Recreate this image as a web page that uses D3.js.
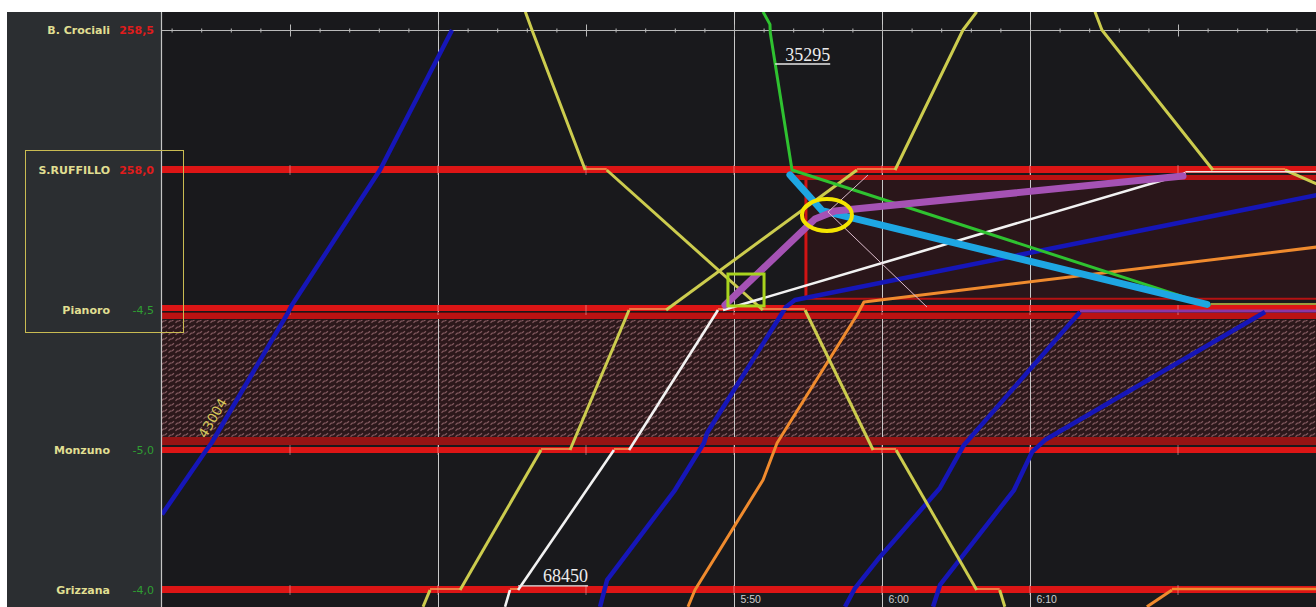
<!DOCTYPE html>
<html>
<head>
<meta charset="utf-8">
<script src="https://cdn.jsdelivr.net/npm/d3@7"></script>
<style>
  html, body { margin: 0; padding: 0; background: #ffffff; overflow: hidden; }
  svg { display: block; }
</style>
</head>
<body>
<svg id="chart" width="1316" height="607"></svg>
<script>
// ---- Line data -----------------------------------------------------------
// Stations from top to bottom with their kilometre markers.
const stations   = ["B. Crociali", "S.RUFFILLO", "Pianoro", "Monzuno", "Grizzana"];
const stationKm  = ["258,5", "258,0", "-4,5", "-5,0", "-4,0"];

// Train paths: [minutes after 05:00, position in station units]
// (0 = B. Crociali, 1 = S.RUFFILLO, 2 = Pianoro, 3 = Monzuno, 4 = Grizzana).
// Two consecutive points on the same position are a stop.
const train43004   = [[11.35, 3.46], [14.35, 3.0], [14.7, 2.95], [19.86, 2.02], [20.1, 1.97], [26.08, 1.0], [30.95, 0.0]];
const trainYellowA = [[35.9, -0.13], [36.35, 0], [39.95, 1], [41.4, 1], [51.95, 2], [54.8, 2], [59.4, 3], [60.95, 3], [66.4, 4], [67.95, 4], [68.3, 4.12]];
const trainYellowB = [[28.99, 4.12], [29.46, 4], [31.49, 4], [36.96, 3], [38.92, 3], [42.91, 2], [45.41, 2], [58.31, 1], [60.88, 1], [65.47, 0], [66.4, -0.13]];
const trainYellowC = [[74.39, -0.13], [74.86, 0], [82.36, 1], [87.23, 1], [89.4, 1.1]];
const train68450   = [[34.53, 4.12], [34.86, 4], [35.41, 4], [41.89, 3], [42.91, 3], [48.92, 2], [49.26, 2], [80.34, 1.03], [80.5, 1.02], [89.4, 1.02]];
const train35295   = [[51.96, -0.13], [52.43, -0.04], [52.45, 0.02], [53.92, 1], [81.96, 1.96], [82.2, 1.965], [89.4, 1.965]];
const routeCyan    = [[53.78, 1.035], [55.95, 1.29], [81.96, 1.96]];
const routeViolet  = [[49.39, 1.964], [55.47, 1.35], [56.82, 1.293], [80.34, 1.043]];
const trainBlueB   = [[40.95, 4.12], [41.42, 3.93], [46.01, 3.286], [47.97, 2.95], [48.18, 2.879], [53.51, 1.979], [54.12, 1.929], [89.4, 1.179]];
const trainBlueC   = [[57.5, 4.12], [58.18, 3.986], [59.86, 3.764], [63.92, 3.271], [65.54, 2.964], [73.38, 2.014], [89.4, 2.014]];
const trainBlueD   = [[63.45, 4.12], [63.92, 3.964], [68.92, 3.286], [70.14, 3.014], [71.01, 2.929], [85.88, 2.014]];
const trainOrangeA = [[46.89, 4.12], [47.36, 4], [51.96, 3.214], [52.91, 2.95], [58.31, 2.036], [58.78, 1.943], [89.4, 1.55]];
const trainOrangeB = [[77.9, 4.12], [79.59, 4.0], [89.4, 4.0]];

// Conflict markers
const conflictLink   = [[59.05, 1.036], [56.35, 1.3], [63.04, 1.979]];
const conflictPoint  = [56.28, 1.321];
const conflictSquare = [[49.59, 1.743], [52.03, 1.971]];

// Track occupation: closed section Pianoro–Monzuno, occupied block S.RUFFILLO–Pianoro
const closedSection  = [2.071, 2.907];
const occupiedBlock  = { start: 54.86, from: 1.07, to: 1.92 };
const secondTrackFrom = 53.78;

// Time axis
const gridTimes   = [30, 50, 60, 70];
const labelTimes  = [50, 60, 70];
const majorTicks  = [20, 30, 40, 50, 60, 70, 80];
const minorTicks  = d3.range(12, 90, 2);

// ---- Layout --------------------------------------------------------------
const W = 1316, H = 607;
const plotL = 162, plotR = 1316, plotT = 12, plotB = 607;
const x = d3.scaleLinear().domain([30, 70]).range([438, 1030]);
const y = d3.scaleLinear().domain([0, 4]).range([30, 590]);
const fmt = t => `${5 + Math.floor(t / 60)}:${String(Math.round(t % 60)).padStart(2, "0")}`;

const RED = "#dc1515", RED_MID = "#bb1212", RED_DARK = "#961414";

const svg = d3.select("#chart");
const defs = svg.append("defs");
defs.append("clipPath").attr("id", "plotClip")
  .append("rect").attr("x", plotL).attr("y", plotT).attr("width", plotR - plotL).attr("height", plotB - plotT);

const hatch = defs.append("pattern").attr("id", "hatch")
  .attr("patternUnits", "userSpaceOnUse").attr("width", 7).attr("height", 6);
hatch.append("rect").attr("width", 7).attr("height", 6).attr("fill", "#2c181b");
hatch.append("path").attr("d", "M0.5,4.8 L2.3,3.1 L4.3,2.8 L6,1.2")
  .attr("stroke", "#82595f").attr("stroke-width", 1.2).attr("fill", "none");

// Frame and panels
svg.append("rect").attr("width", W).attr("height", H).attr("fill", "#ffffff");
svg.append("rect").attr("x", 7).attr("y", plotT).attr("width", plotL - 7).attr("height", plotB - plotT).attr("fill", "#2b2e31");
svg.append("rect").attr("x", plotL).attr("y", plotT).attr("width", plotR - plotL).attr("height", plotB - plotT).attr("fill", "#19191c");

const plot = svg.append("g").attr("clip-path", "url(#plotClip)");

// Closed section (hatched)
plot.append("rect")
  .attr("x", plotL).attr("width", plotR - plotL)
  .attr("y", y(closedSection[0])).attr("height", y(closedSection[1]) - y(closedSection[0]))
  .attr("fill", "url(#hatch)");

// Occupied block
plot.append("rect")
  .attr("x", x(occupiedBlock.start)).attr("width", plotR - x(occupiedBlock.start))
  .attr("y", y(occupiedBlock.from)).attr("height", y(occupiedBlock.to) - y(occupiedBlock.from))
  .attr("fill", "#2a161a");

// Vertical grid lines
plot.selectAll("line.grid").data(gridTimes).join("line")
  .attr("class", "grid")
  .attr("x1", d => x(d) + 0.5).attr("x2", d => x(d) + 0.5)
  .attr("y1", plotT).attr("y2", plotB)
  .attr("stroke", "#c9c9c9").attr("stroke-width", 1);

// Station track bands (pixel offsets from each station line)
const bandLayout = [
  [],
  [{ dy: -0.5, w: 7, c: RED }],
  [{ dy: -2, w: 6, c: RED }, { dy: 6, w: 6, c: RED_MID }],
  [{ dy: -9, w: 8, c: RED_DARK }, { dy: 0, w: 6, c: RED }],
  [{ dy: -0.5, w: 7, c: RED }]
];
bandLayout.forEach((bands, i) => {
  bands.forEach(b => {
    plot.append("line")
      .attr("x1", plotL).attr("x2", plotR)
      .attr("y1", y(i) + b.dy).attr("y2", y(i) + b.dy)
      .attr("stroke", b.c).attr("stroke-width", b.w);
  });
});
// second track at S.RUFFILLO
plot.append("line")
  .attr("x1", x(secondTrackFrom)).attr("x2", plotR)
  .attr("y1", y(1) + 7.5).attr("y2", y(1) + 7.5)
  .attr("stroke", RED_MID).attr("stroke-width", 5);
// Pianoro separator
plot.append("line")
  .attr("x1", plotL).attr("x2", plotR)
  .attr("y1", y(2) + 2.5).attr("y2", y(2) + 2.5)
  .attr("stroke", "#5a0e10").attr("stroke-width", 1);
// occupied block borders
plot.append("line")
  .attr("x1", x(occupiedBlock.start)).attr("x2", x(occupiedBlock.start))
  .attr("y1", y(occupiedBlock.from)).attr("y2", y(occupiedBlock.to))
  .attr("stroke", "#d01414").attr("stroke-width", 3);
plot.append("line")
  .attr("x1", x(occupiedBlock.start)).attr("x2", plotR)
  .attr("y1", y(occupiedBlock.to)).attr("y2", y(occupiedBlock.to))
  .attr("stroke", "#b51212").attr("stroke-width", 2);

// kilometre marks on the station bands
[1, 2, 3, 4].forEach(i => {
  plot.selectAll(null).data(majorTicks).join("line")
    .attr("x1", d => x(d)).attr("x2", d => x(d))
    .attr("y1", y(i) - 5).attr("y2", y(i) + 5)
    .attr("stroke", "#f0b4b4").attr("stroke-opacity", 0.55).attr("stroke-width", 1);
});

// Top time scale on the B. Crociali line
plot.append("line")
  .attr("x1", plotL).attr("x2", plotR).attr("y1", y(0) + 0.5).attr("y2", y(0) + 0.5)
  .attr("stroke", "#b9b9b9").attr("stroke-width", 1);
const tickG = plot.append("g").attr("transform", `translate(0,${y(0) + 0.5})`);
tickG.append("g").call(d3.axisTop(x).tickValues(minorTicks).tickSize(2).tickFormat(""));
tickG.append("g").call(d3.axisBottom(x).tickValues(minorTicks).tickSize(2).tickFormat(""));
tickG.append("g").call(d3.axisTop(x).tickValues(majorTicks).tickSize(6).tickFormat(""));
tickG.append("g").call(d3.axisBottom(x).tickValues(majorTicks).tickSize(6).tickFormat(""));
tickG.selectAll(".domain").remove();
tickG.selectAll(".tick line").attr("stroke", "#b9b9b9");

// ---- Trains ----------------------------------------------------------------
const BLUE = "#1616b8", YELLOW = "#cccc4e", ORANGE = "#f08b2e", STOP = "#f39a52";
const trains = [
  { id: "43004", pts: train43004,   colour: BLUE,   width: 4.5 },
  { id: "b2",    pts: trainBlueB,   colour: BLUE,   width: 4.5 },
  { id: "b3",    pts: trainBlueC,   colour: BLUE,   width: 4.5, dwell: "#8b36a5", dwellWidth: 3 },
  { id: "b4",    pts: trainBlueD,   colour: BLUE,   width: 4.5 },
  { id: "o1",    pts: trainOrangeA, colour: ORANGE, width: 3 },
  { id: "o2",    pts: trainOrangeB, colour: ORANGE, width: 3, dwell: ORANGE, dwellWidth: 2.5 },
  { id: "y1",    pts: trainYellowA, colour: YELLOW, width: 3 },
  { id: "y2",    pts: trainYellowB, colour: YELLOW, width: 3 },
  { id: "y3",    pts: trainYellowC, colour: YELLOW, width: 3 },
  { id: "68450", pts: train68450,   colour: "#f2f2f2", width: 2.6, dwell: "#f0e2e2", dwellWidth: 1.5 },
  { id: "35295", pts: train35295,   colour: "#2fc230", width: 3, dwell: "#9c9c3e", dwellWidth: 2 },
  { id: "cyan",  pts: routeCyan,    colour: "#1ea6e2", width: 7, cap: "round" },
  { id: "viol",  pts: routeViolet,  colour: "#a552b4", width: 7, cap: "round" }
];

const line = d3.line().x(d => x(d[0])).y(d => y(d[1]));

function splitPath(pts) {
  const runs = [], stops = [];
  let cur = [pts[0]];
  for (let i = 1; i < pts.length; i++) {
    const a = pts[i - 1], b = pts[i];
    if (a[1] === b[1]) {
      if (cur.length > 1) runs.push(cur);
      stops.push({ a, b, open: i === pts.length - 1 });
      cur = [b];
    } else {
      cur.push(b);
    }
  }
  if (cur.length > 1) runs.push(cur);
  return { runs, stops };
}

const trainG = plot.append("g");
trains.forEach(tr => {
  const { runs, stops } = splitPath(tr.pts);
  stops.forEach(s => {
    trainG.append("line")
      .attr("x1", x(s.a[0])).attr("x2", x(s.b[0]))
      .attr("y1", y(s.a[1]) - 1).attr("y2", y(s.b[1]) - 1)
      .attr("stroke", s.open && tr.dwell ? tr.dwell : STOP)
      .attr("stroke-width", s.open && tr.dwellWidth ? tr.dwellWidth : 1.6);
  });
  runs.forEach(r => {
    trainG.append("path").datum(r).attr("d", line)
      .attr("fill", "none").attr("stroke", tr.colour).attr("stroke-width", tr.width)
      .attr("stroke-linejoin", "round").attr("stroke-linecap", tr.cap || "butt");
  });
});

// ---- Conflict markers ----------------------------------------------------
plot.append("path").datum(conflictLink).attr("d", line)
  .attr("fill", "none").attr("stroke", "#dcbccc").attr("stroke-width", 1);
plot.append("ellipse")
  .attr("cx", x(conflictPoint[0])).attr("cy", y(conflictPoint[1]))
  .attr("rx", 25).attr("ry", 16)
  .attr("fill", "none").attr("stroke", "#f4e400").attr("stroke-width", 4);
plot.append("rect")
  .attr("x", x(conflictSquare[0][0])).attr("y", y(conflictSquare[0][1]))
  .attr("width", x(conflictSquare[1][0]) - x(conflictSquare[0][0]))
  .attr("height", y(conflictSquare[1][1]) - y(conflictSquare[0][1]))
  .attr("fill", "none").attr("stroke", "#a8d41e").attr("stroke-width", 3);

// ---- Train numbers -------------------------------------------------------
function pointAt(pts, s) {
  for (let i = 1; i < pts.length; i++) {
    const a = pts[i - 1], b = pts[i];
    if ((a[1] - s) * (b[1] - s) <= 0 && a[1] !== b[1]) {
      const k = (s - a[1]) / (b[1] - a[1]);
      return { t: a[0] + k * (b[0] - a[0]), a, b };
    }
  }
  return null;
}
// underlined numbers
[{ pts: train35295, text: "35295", s: 0.243, len: 55 },
 { pts: train68450, text: "68450", s: 3.971, len: 70, t: 35.41 }].forEach(l => {
  const t = l.t !== undefined ? l.t : pointAt(l.pts, l.s).t;
  const px = x(t), py = y(l.s);
  plot.append("line").attr("x1", px).attr("x2", px + l.len).attr("y1", py).attr("y2", py)
    .attr("stroke", "#e6e6e6").attr("stroke-width", 1.3);
  plot.append("text").attr("x", px + l.len).attr("y", py - 3.5)
    .attr("text-anchor", "end").attr("fill", "#ececec")
    .attr("font-family", "Liberation Serif, serif").attr("font-size", 18)
    .text(l.text);
});
// rotated number along 43004
{
  const p = pointAt(train43004, 2.814);
  const ax = x(p.t), ay = y(2.814);
  const ang = Math.atan2(y(p.b[1]) - y(p.a[1]), x(p.b[0]) - x(p.a[0]));
  const nx = -Math.sin(ang), ny = Math.cos(ang);
  plot.append("text")
    .attr("transform", `translate(${ax - 7 * nx},${ay - 7 * ny}) rotate(${ang * 180 / Math.PI})`)
    .attr("text-anchor", "middle").attr("fill", "#d6c65a")
    .attr("font-family", "DejaVu Sans, sans-serif").attr("font-size", 13.5)
    .text("43004");
}

// ---- Bottom time labels ----------------------------------------------------
const axisB = svg.append("g").attr("transform", `translate(0,593)`)
  .call(d3.axisBottom(x).tickValues(labelTimes).tickFormat(fmt).tickSize(0));
axisB.select(".domain").remove();
axisB.selectAll("text")
  .attr("x", 6).attr("text-anchor", "start")
  .attr("fill", "#cfcfcf").attr("font-family", "Liberation Sans, sans-serif").attr("font-size", 10.5);

// Left border of the diagram
svg.append("line").attr("x1", plotL - 0.5).attr("x2", plotL - 0.5).attr("y1", plotT).attr("y2", plotB)
  .attr("stroke", "#c4c4c4").attr("stroke-width", 1.2);

// ---- Station panel ---------------------------------------------------------
const panel = svg.append("g").attr("font-family", "DejaVu Sans, sans-serif")
  .attr("font-size", 11).attr("font-weight", "bold");
panel.selectAll("text.name").data(stations).join("text")
  .attr("class", "name")
  .attr("x", 110).attr("y", (d, i) => y(i) + 4)
  .attr("text-anchor", "end").attr("fill", "#e0df92")
  .text(d => d);
panel.selectAll("text.km").data(stationKm).join("text")
  .attr("class", "km")
  .attr("x", 154).attr("y", (d, i) => y(i) + 4)
  .attr("text-anchor", "end")
  .attr("font-weight", (d, i) => i < 2 ? "bold" : "normal")
  .attr("fill", d => d.startsWith("-") ? "#2f9e32" : "#e01c1c")
  .text(d => d);

// selection frame around S.RUFFILLO – Pianoro
svg.append("rect")
  .attr("x", 25.5).attr("y", y(1) - 19.5)
  .attr("width", 158).attr("height", y(2) - y(1) + 42)
  .attr("fill", "none").attr("stroke", "#c9bb52").attr("stroke-width", 1);
</script>
</body>
</html>
